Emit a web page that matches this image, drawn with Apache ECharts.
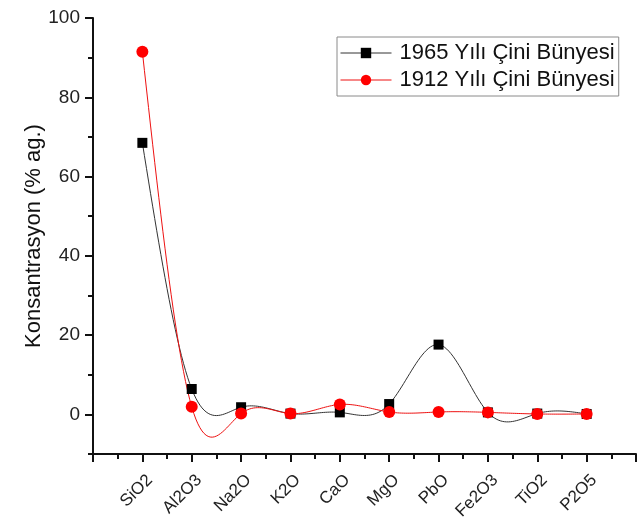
<!DOCTYPE html>
<html>
<head>
<meta charset="utf-8">
<script src="https://cdn.jsdelivr.net/npm/echarts@6/dist/echarts.min.js"></script>
<style>
  html, body { margin: 0; padding: 0; background: #fff; }
  #chart { width: 642px; height: 521px; }
</style>
</head>
<body>
<div id="chart"></div>
<script>
// Oxide components along the x axis (placed at positions 1..10)
const categories = ['SiO2', 'Al2O3', 'Na2O', 'K2O', 'CaO', 'MgO', 'PbO', 'Fe2O3', 'TiO2', 'P2O5'];
// Concentrations (% by weight)
const body1965 = [68.5, 6.4, 1.8, 0.2, 0.5, 2.6, 17.6, 0.5, 0.2, 0.1];
const body1912 = [91.5, 1.9, 0.2, 0.2, 2.5, 0.6, 0.6, 0.5, 0.1, 0.1];
const yLabelTicks = [0, 20, 40, 60, 80, 100];
const yMinorTicks = [-10, 10, 30, 50, 70, 90];

const NAME_1965 = '1965 Yılı Çini Bünyesi';
const NAME_1912 = '1912 Yılı Çini Bünyesi';
const FONT = '"Liberation Sans", Arial, sans-serif';

function toPairs(values) {
  return values.map((v, i) => [i + 1, v]);
}

// Second derivatives of a natural cubic spline through equally spaced points (h = 1)
function splineMoments(ys) {
  const n = ys.length;
  const M = new Array(n).fill(0);
  if (n < 3) return M;
  const m = n - 2;
  const a = [], b = [], c = [], d = [];
  for (let i = 1; i <= m; i++) {
    a.push(1); b.push(4); c.push(1);
    d.push(6 * (ys[i + 1] - 2 * ys[i] + ys[i - 1]));
  }
  for (let i = 1; i < m; i++) {
    const w = a[i] / b[i - 1];
    b[i] -= w * c[i - 1];
    d[i] -= w * d[i - 1];
  }
  const x = new Array(m);
  x[m - 1] = d[m - 1] / b[m - 1];
  for (let i = m - 2; i >= 0; i--) x[i] = (d[i] - c[i] * x[i + 1]) / b[i];
  for (let i = 0; i < m; i++) M[i + 1] = x[i];
  return M;
}

// Custom series that renders the spline through a value list, in axis coordinates
function splineSeries(values, color) {
  const M = splineMoments(values);
  const steps = 24;
  return {
    type: 'custom',
    silent: true,
    z: 1,
    data: [[1, values[0]]],
    renderItem: function (params, api) {
      const points = [];
      for (let i = 0; i < values.length - 1; i++) {
        for (let k = 0; k <= steps; k++) {
          if (i > 0 && k === 0) continue;
          const t = k / steps;
          const u = 1 - t;
          const y = u * values[i] + t * values[i + 1]
            + ((u * u * u - u) * M[i] + (t * t * t - t) * M[i + 1]) / 6;
          points.push(api.coord([i + 1 + t, y]));
        }
      }
      return {
        type: 'polyline',
        shape: { points: points },
        style: { stroke: color, lineWidth: 1, fill: null }
      };
    }
  };
}

const chart = echarts.init(document.getElementById('chart'), null, { renderer: 'canvas' });

const axisLineStyle = { color: '#111', width: 2 };
const tickStyle = { color: '#111', width: 2 };
const BLACK_LINE = '#333';
const RED_LINE = '#ee1111';

chart.setOption({
  backgroundColor: '#fff',
  animation: false,
  grid: { left: 93, top: 18, right: 6, bottom: 67, containLabel: false, outerBoundsMode: 'none' },
  legend: {
    orient: 'vertical',
    left: 337,
    top: 37,
    itemWidth: 51,
    itemHeight: 13,
    itemGap: 5,
    padding: [5, 4, 5, 3],
    borderColor: '#8a8a8a',
    borderWidth: 1,
    textStyle: { fontFamily: FONT, fontSize: 22, color: '#111', padding: [0, 0, 0, 3] },
    data: [
      { name: NAME_1965, lineStyle: { color: BLACK_LINE, width: 1, opacity: 1 } },
      { name: NAME_1912, lineStyle: { color: RED_LINE, width: 1, opacity: 1 } }
    ]
  },
  xAxis: {
    type: 'value',
    min: 0,
    max: 11,
    interval: 1,
    splitLine: { show: false },
    axisLine: { onZero: false, lineStyle: axisLineStyle },
    axisTick: { inside: false, length: 8, lineStyle: tickStyle },
    minorTick: { show: true, splitNumber: 2, length: 5, lineStyle: tickStyle },
    axisLabel: {
      rotate: 45,
      margin: 16,
      verticalAlign: 'top',
      padding: [2, 0, 0, 0],
      fontFamily: FONT,
      fontSize: 17,
      color: '#222',
      formatter: v => (v >= 1 && v <= categories.length && Number.isInteger(v)) ? categories[v - 1] : ''
    }
  },
  yAxis: [
    {
      type: 'value',
      min: -10,
      max: 100,
      name: 'Konsantrasyon (% ag.)',
      nameLocation: 'middle',
      nameGap: 48,
      nameMoveOverlap: false,
      nameTextStyle: { fontFamily: FONT, fontSize: 22, color: '#111' },
      splitLine: { show: false },
      axisLine: { lineStyle: axisLineStyle },
      axisTick: { inside: false, length: 8, customValues: yLabelTicks, lineStyle: tickStyle },
      axisLabel: { customValues: yLabelTicks, margin: 13, fontFamily: FONT, fontSize: 19, color: '#222' }
    },
    {
      type: 'value',
      position: 'left',
      min: -10,
      max: 100,
      splitLine: { show: false },
      axisLine: { show: false },
      axisTick: { inside: false, length: 5, customValues: yMinorTicks, lineStyle: tickStyle },
      axisLabel: { show: false }
    }
  ],
  series: [
    splineSeries(body1965, BLACK_LINE),
    splineSeries(body1912, RED_LINE),
    {
      name: NAME_1965,
      type: 'line',
      data: toPairs(body1965),
      symbol: 'rect',
      symbolSize: 10,
      itemStyle: { color: '#000' },
      lineStyle: { color: BLACK_LINE, width: 1, opacity: 0 },
      z: 3
    },
    {
      name: NAME_1912,
      type: 'line',
      data: toPairs(body1912),
      symbol: 'circle',
      symbolSize: 12,
      itemStyle: { color: '#f00' },
      lineStyle: { color: RED_LINE, width: 1, opacity: 0 },
      z: 4
    }
  ]
});
</script>
</body>
</html>
